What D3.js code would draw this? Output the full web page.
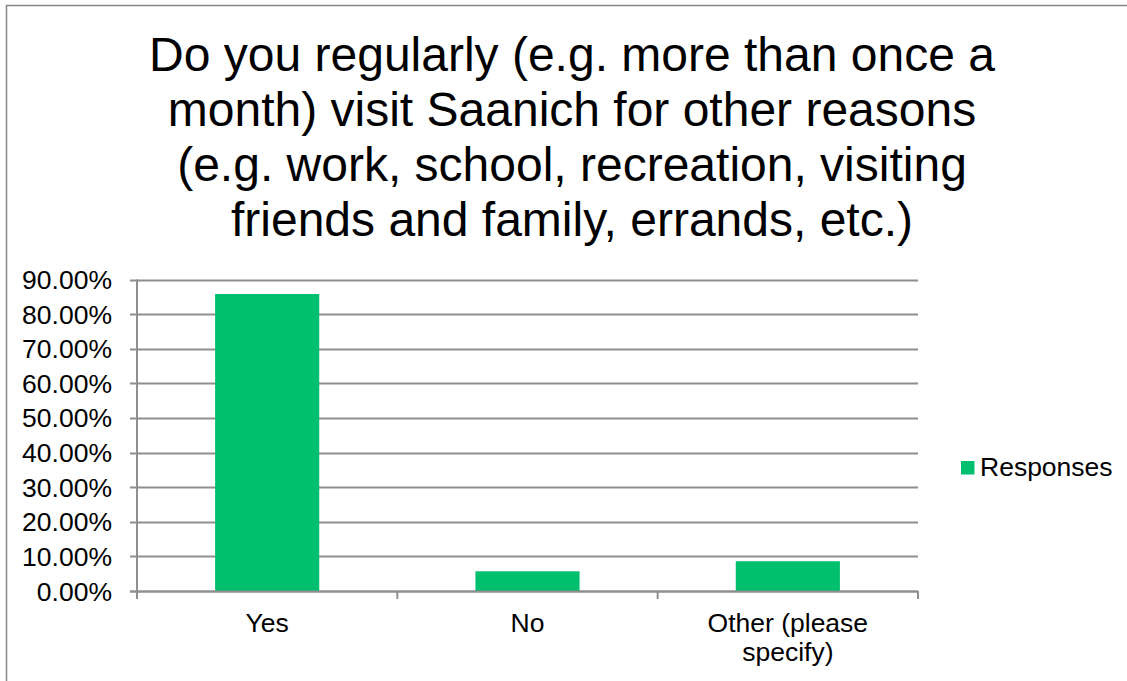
<!DOCTYPE html>
<html>
<head>
<meta charset="utf-8">
<script src="https://cdn.jsdelivr.net/npm/d3@7"></script>
<style>
  body { margin: 0; background: #fff; }
  text { font-family: "Liberation Sans", Arial, sans-serif; fill: #000; }
</style>
</head>
<body>
<div id="chart"></div>
<script>
var titleLines = [
    "Do you regularly (e.g. more than once a",
    "month) visit Saanich for other reasons",
    "(e.g. work, school, recreation, visiting",
    "friends and family, errands, etc.)"
];
var categories = ["Yes", "No", "Other (please specify)"];
var responses = [85.8, 5.7, 8.6];
var yTicks = [0, 10, 20, 30, 40, 50, 60, 70, 80, 90];
var seriesName = "Responses";

function init() {
    var w = 1127;
    var h = 681;
    var green = "#00bf6f";
    var grid = "#8f8f8f";
    var fs = "26.5px";

    var svg = d3.select("#chart")
        .append("svg")
        .attr("width", w)
        .attr("height", h);

    // outer frame (right/bottom fall off the picture)
    svg.append("rect")
        .attr("x", 6.5)
        .attr("y", 5.5)
        .attr("width", w + 10)
        .attr("height", h + 10)
        .attr("fill", "none")
        .attr("stroke", "#878787")
        .attr("stroke-width", 1.5);

    svg.append("g")
        .selectAll("text")
        .data(titleLines)
        .enter()
        .append("text")
        .attr("x", 572)
        .attr("y", function (d, i) { return 70.5 + i * 55.3; })
        .attr("text-anchor", "middle")
        .attr("font-size", "48px")
        .text(function (d) { return d; });

    var x = d3.scaleBand()
        .domain(categories)
        .range([137, 918]);

    var y = d3.scaleLinear()
        .domain([0, 90])
        .range([591, 279.5]);

    // gridlines
    svg.append("g")
        .selectAll("line")
        .data(yTicks)
        .enter()
        .append("line")
        .attr("x1", 130)
        .attr("x2", 918)
        .attr("y1", function (d) { return Math.round(y(d)) + 0.5; })
        .attr("y2", function (d) { return Math.round(y(d)) + 0.5; })
        .attr("stroke", grid)
        .attr("stroke-width", 2);

    // y labels
    svg.append("g")
        .selectAll("text")
        .data(yTicks)
        .enter()
        .append("text")
        .attr("x", 112)
        .attr("y", function (d) { return y(d) + 9.5; })
        .attr("text-anchor", "end")
        .attr("font-size", fs)
        .text(function (d) { return d.toFixed(2) + "%"; });

    // bars
    var barW = x.bandwidth() * 0.4;
    svg.append("g")
        .selectAll("rect")
        .data(responses)
        .enter()
        .append("rect")
        .attr("x", function (d, i) { return x(categories[i]) + (x.bandwidth() - barW) / 2; })
        .attr("y", function (d) { return y(d); })
        .attr("width", barW)
        .attr("height", function (d) { return y(0) - y(d); })
        .attr("fill", green);

    // value axis line
    svg.append("line")
        .attr("x1", 137).attr("x2", 137)
        .attr("y1", y(90)).attr("y2", 599)
        .attr("stroke", grid)
        .attr("stroke-width", 2);

    // category axis line + boundary ticks
    svg.append("line")
        .attr("x1", 130).attr("x2", 918)
        .attr("y1", Math.round(y(0)) + 0.5).attr("y2", Math.round(y(0)) + 0.5)
        .attr("stroke", grid)
        .attr("stroke-width", 2);

    var bounds = categories.map(function (c) { return x(c); }).concat([x.range()[1]]);
    svg.append("g")
        .selectAll("line")
        .data(bounds)
        .enter()
        .append("line")
        .attr("x1", function (d) { return d; })
        .attr("x2", function (d) { return d; })
        .attr("y1", y(0))
        .attr("y2", 599)
        .attr("stroke", grid)
        .attr("stroke-width", 2);

    // category labels, wrapped
    var labels = svg.append("g")
        .selectAll("text")
        .data(categories)
        .enter()
        .append("text")
        .attr("x", function (d) { return x(d) + x.bandwidth() / 2; })
        .attr("y", 632)
        .attr("text-anchor", "middle")
        .attr("font-size", fs);

    labels.each(function (d) {
        var t = d3.select(this);
        var words = d.split(" ");
        var line = [];
        var tspan = t.append("tspan").attr("x", t.attr("x")).attr("dy", 0);
        words.forEach(function (word) {
            line.push(word);
            tspan.text(line.join(" "));
            if (tspan.node().getComputedTextLength() > 200 && line.length > 1) {
                line.pop();
                tspan.text(line.join(" "));
                line = [word];
                tspan = t.append("tspan")
                    .attr("x", t.attr("x"))
                    .attr("dy", 29)
                    .text(word);
            }
        });
    });

    // legend
    svg.append("rect")
        .attr("x", 961)
        .attr("y", 461)
        .attr("width", 13.5)
        .attr("height", 13.5)
        .attr("fill", green);
    svg.append("text")
        .attr("x", 980)
        .attr("y", 476)
        .attr("font-size", fs)
        .text(seriesName);
}
window.onload = init;
</script>
</body>
</html>
